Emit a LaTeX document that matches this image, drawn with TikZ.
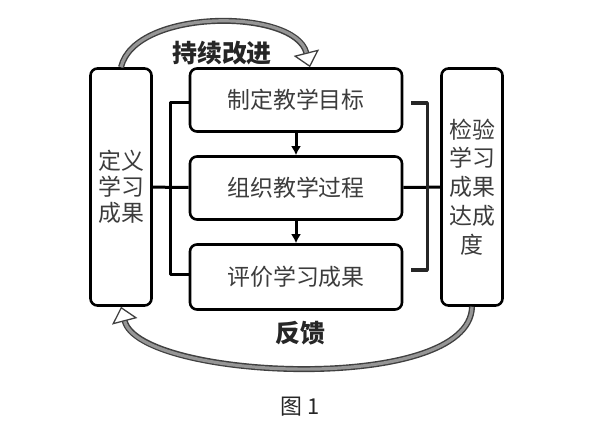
\documentclass[tikz,border=0pt]{standalone}
\usepackage{fontspec}
\setmainfont{Noto Sans CJK SC}
\usepackage{tikz}
\usetikzlibrary{arrows,arrows.meta}
\definecolor{boxtext}{RGB}{60,60,60}
\definecolor{loopgray}{RGB}{150,150,150}

\begin{document}
\begin{tikzpicture}[>={Latex[length=9bp,width=10bp]},line join=bevel,
  stepbox/.style={draw,rounded corners=7bp,line width=2.6bp,text=boxtext,font=\fontsize{23}{26}\selectfont},
  sidebox/.style={stepbox,minimum width=61bp,minimum height=237bp,align=center},
  midbox/.style={stepbox,minimum width=212bp,minimum height=63bp},
  joinline/.style={line width=3bp,draw=black},
  loopout/.style={line width=6bp,draw=black!75},
  loopin/.style={line width=3.2bp,draw=loopgray},
  looptip/.style={-{Triangle[length=15bp,width=26bp,line width=1.3bp,fill=white]}},
  looplabel/.style={font=\bfseries\fontsize{25}{28}\selectfont,text=black!85},
]
\useasboundingbox (0bp,0bp) rectangle (600bp,424bp);
%%
\node (define) at (121.0bp,237.0bp) [sidebox,font=\fontsize{23}{26}\selectfont] {定义\\学习\\成果};
  \node (goal) at (296.0bp,324.0bp) [midbox] {制定教学目标};
  \node (process) at (296.0bp,236.0bp) [midbox] {组织教学过程};
  \node (assess) at (296.0bp,147.0bp) [midbox,minimum height=65bp] {评价学习成果};
  \node (check) at (472.0bp,237.0bp) [sidebox,font=\fontsize{23}{29}\selectfont] {检验\\学习\\成果\\达成\\度};
  \draw [joinline,->] (goal) -- (process);
  \draw [joinline,->] (process) -- (assess);
  \draw [joinline] (define) -- (process);
  \draw [joinline] ([yshift=-3bp]goal.west) -- ++(-18bp,0bp) |- ([yshift=2bp]assess.west);
  \draw [joinline] (process) -- (check);
  \draw [joinline,line width=3.4bp,draw=black!85] ([xshift=8bp,yshift=-3bp]goal.east) -- ++(16bp,0bp) |- ([xshift=8bp,yshift=7bp]assess.east);
  % continuous improvement loop
  \draw [loopout,looptip] (define.north) ..controls (135.0bp,416.0bp) and (295.0bp,416.0bp) .. ([xshift=14bp]goal.north);
  \draw [loopin,shorten >=15bp] (define.north) ..controls (135.0bp,416.0bp) and (295.0bp,416.0bp) .. ([xshift=14bp]goal.north);
  \node (improve) at (222.0bp,371.0bp) [looplabel] {持续改进};
  % feedback loop
  \draw [loopout,looptip] (check.south) ..controls (470.0bp,29.0bp) and (140.0bp,44.0bp) .. (define.south);
  \draw [loopin,shorten >=15bp] (check.south) ..controls (470.0bp,29.0bp) and (140.0bp,44.0bp) .. (define.south);
  \node (feedback) at (300.0bp,91.0bp) [looplabel] {反馈};
  \node (caption) at (300.0bp,17.0bp) [font=\fontsize{22}{24}\selectfont,text=black!85] {图 1};
%
\end{tikzpicture}
\end{document}
